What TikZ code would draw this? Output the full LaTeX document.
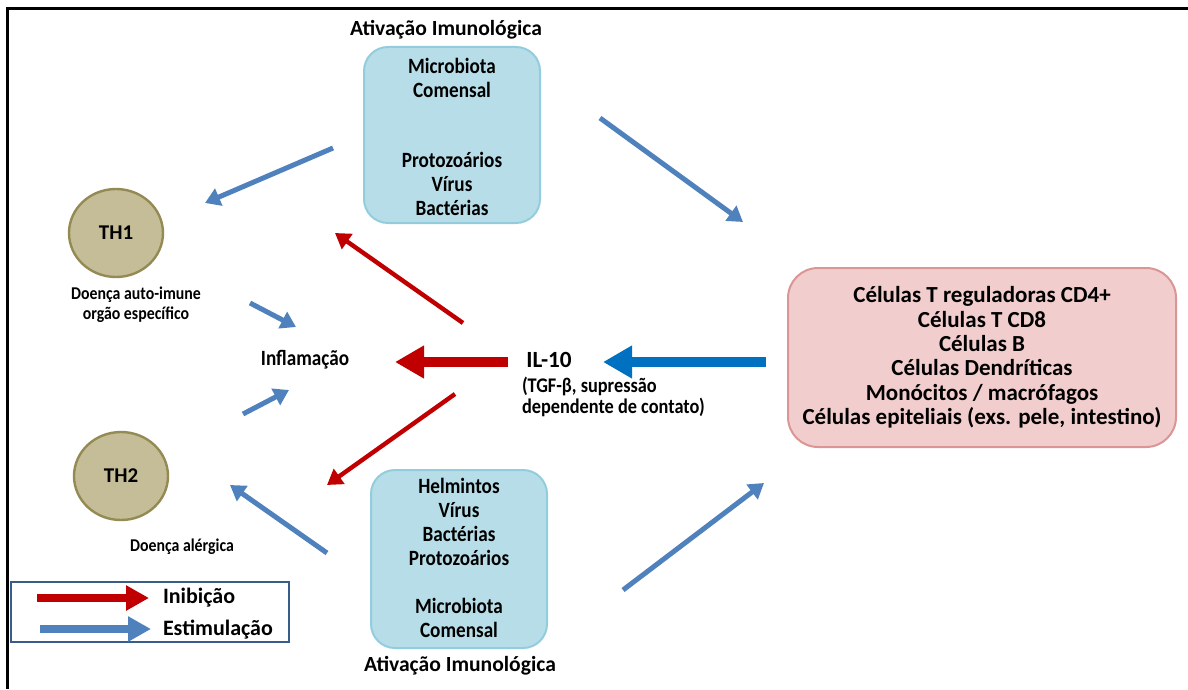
\documentclass[tikz,border=0pt]{standalone}
\usepackage{fontspec}
\setmainfont{Carlito}
\newfontfamily\narrowfont{Carlito}[FakeStretch=0.88]
\usetikzlibrary{arrows.meta,shapes.geometric}

\definecolor{aqua}{HTML}{B7DEE8}
\definecolor{aquaedge}{HTML}{93CDDD}
\definecolor{khaki}{HTML}{C4BD97}
\definecolor{khakiedge}{HTML}{948A54}
\definecolor{rose}{HTML}{F2CDCD}
\definecolor{roseedge}{HTML}{D99694}
\definecolor{stimblue}{HTML}{4F81BD}
\definecolor{strongblue}{HTML}{0070C0}
\definecolor{inhred}{HTML}{C00000}
\definecolor{legendedge}{HTML}{385D8A}

\begin{document}
\begin{tikzpicture}[x=0.5bp,y=-0.5bp,
  every node/.style={inner sep=0pt, outer sep=0pt},
  txt/.style={font=\narrowfont\bfseries\fontsize{10.9bp}{12bp}\selectfont, align=center},
  plaintxt/.style={font=\bfseries\fontsize{#1}{12bp}\selectfont, align=center},
  smalltxt/.style={font=\narrowfont\bfseries\fontsize{9bp}{10.2bp}\selectfont, align=center},
  infobox/.style={rounded corners=12bp, fill=aqua, draw=aquaedge, line width=1bp, minimum width=88bp},
  cellnode/.style={ellipse, fill=khaki, draw=khakiedge, line width=1.2bp,
                   minimum width=47bp, minimum height=44bp, plaintxt=10.5bp},
  stim/.style={draw=stimblue, line width=2.5bp, -{Triangle[length=7.5bp,width=9bp]}},
  inhib/.style={draw=inhred, line width=2.2bp, -{Triangle[length=7.5bp,width=9bp]}},
  bigarrow/.style={line width=5bp, -{Triangle[length=14.5bp,width=15.5bp]}},
  legarrow/.style={line width=4bp, -{Triangle[length=11.5bp,width=12bp]}}
]
\useasboundingbox (0,0) rectangle (1188,689);

% outer frame (top and left edges)
\draw[line width=1.5bp] (7,689) -- (7,9) -- (1188,9);

% activation boxes
\node[plaintxt=10.8bp] (atitop) at (446,30) {Ativação Imunológica};
\node[infobox, minimum height=88bp] (topbox) at (452,135) {};
\node[txt] (toptext) at (452,137)
  {Microbiota\\Comensal\\[23bp]Protozoários\\Vírus\\Bactérias};
\node[infobox, minimum height=89bp] (botbox) at (459,559) {};
\node[txt] (bottext) at (459,558)
  {Helmintos\\Vírus\\Bactérias\\Protozoários\\[12bp]Microbiota\\Comensal};
\node[plaintxt=10.8bp] (atibot) at (460,666) {Ativação Imunológica};

% T helper cells
\node[cellnode] (th1) at (116,233) {TH1};
\node[smalltxt] (auto) at (136,305) {Doença auto-imune\\orgão específico};
\node[cellnode] (th2) at (121,476) {TH2};
\node[smalltxt] (alerg) at (182,547) {Doença alérgica};

% centre
\node[txt] (infl) at (305,360) {Inflamação};
\node[plaintxt=11.6bp] (il10) at (549,360) {IL-10};
\node[font=\narrowfont\bfseries\fontsize{10.4bp}{10.5bp}\selectfont, align=left, anchor=west] (tgf) at (522,397)
  {(TGF-β, supressão\\dependente de contato)};

% regulatory cells
\node[font=\bfseries\fontsize{11.5bp}{12.2bp}\selectfont, align=center,
      rounded corners=15bp, fill=rose, draw=roseedge, line width=1bp,
      minimum width=194bp, minimum height=89.5bp] (cells) at (982,357.5)
  {Células T reguladoras CD4+\\Células T CD8\\Células B\\Células Dendríticas\\Monócitos / macrófagos\\Células epiteliais (exs. pele, intestino)};

% arrow end points
\coordinate (s1) at (333,148);  \coordinate (e1) at (205,203);
\coordinate (s2) at (250,303);  \coordinate (e2) at (296,327);
\coordinate (s3) at (243,414);  \coordinate (e3) at (289,390);
\coordinate (s4) at (327,553);  \coordinate (e4) at (230,485);
\coordinate (s5) at (600,118);  \coordinate (e5) at (743,222);
\coordinate (s6) at (623,590);  \coordinate (e6) at (764,483);
\coordinate (s7) at (463,323);  \coordinate (e7) at (335,233);
\coordinate (s8) at (455,394);  \coordinate (e8) at (327,485);
\coordinate (rs) at (508,362);  \coordinate (re) at (395,362);
\coordinate (bs) at (766,362);  \coordinate (be) at (603,362);

% stimulation
\draw[stim] (s1) -- (e1);
\draw[stim] (s2) -- (e2);
\draw[stim] (s3) -- (e3);
\draw[stim] (s4) -- (e4);
\draw[stim] (s5) -- (e5);
\draw[stim] (s6) -- (e6);

% inhibition
\draw[inhib] (s7) -- (e7);
\draw[inhib] (s8) -- (e8);

% IL-10 pathway
\draw[bigarrow, draw=inhred] (rs) -- (re);
\draw[bigarrow, draw=strongblue] (bs) -- (be);

% legend
\node[draw=legendedge, line width=1bp, minimum width=138.5bp, minimum height=30bp] (legend) at (150,612) {};
\coordinate (l1s) at (37,598);  \coordinate (l1e) at (149,598);
\coordinate (l2s) at (40,629);  \coordinate (l2e) at (151,629);
\draw[legarrow, draw=inhred] (l1s) -- (l1e);
\draw[legarrow, draw=stimblue] (l2s) -- (l2e);
\node[plaintxt=11bp, anchor=west] (linh) at (163,598) {Inibição};
\node[plaintxt=11bp, anchor=west] (lstim) at (163,630) {Estimulação};
\end{tikzpicture}
\end{document}
